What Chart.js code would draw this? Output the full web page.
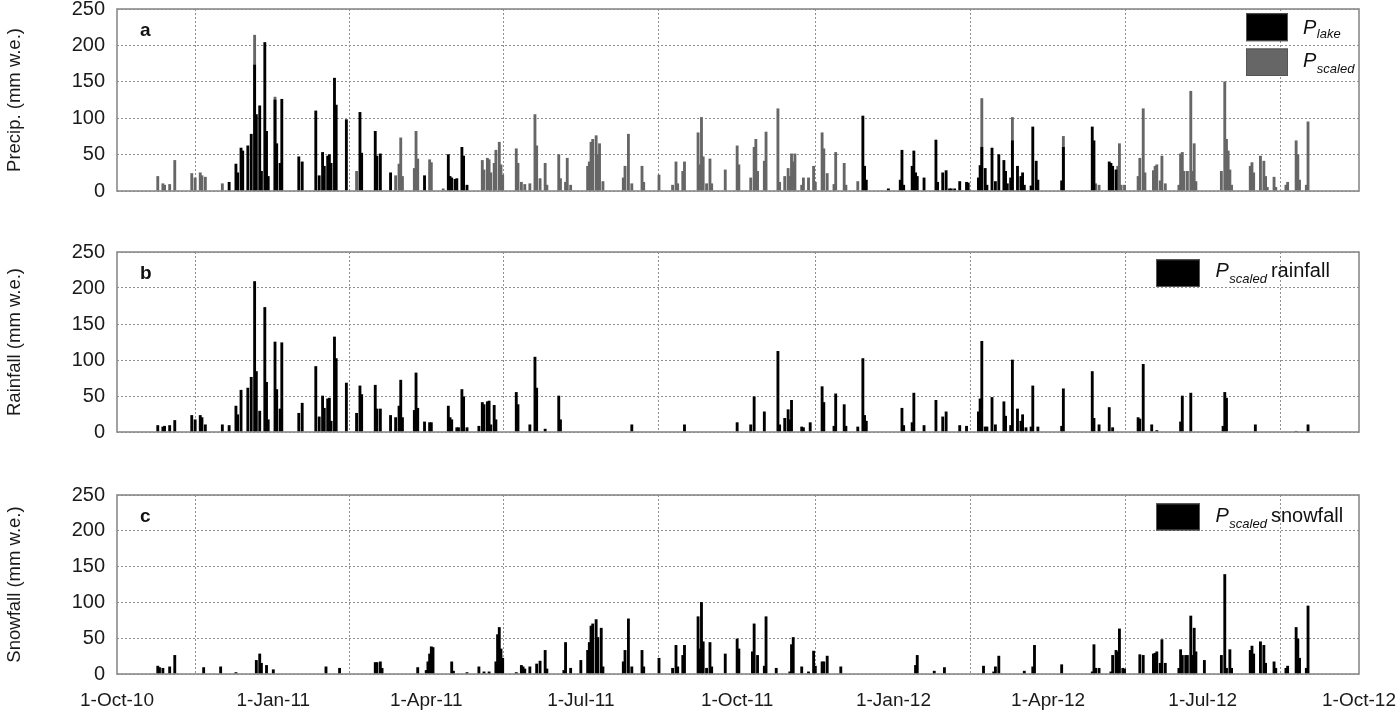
<!DOCTYPE html>
<html>
<head>
<meta charset="utf-8">
<script src="https://cdn.jsdelivr.net/npm/chart.js@4.4.1/dist/chart.umd.min.js"></script>
<style>
  body { margin: 0; background: #fff; }
  #wrap { position: relative; width: 1400px; height: 714px; overflow: hidden; }
  canvas { position: absolute; left: 0; }
</style>
</head>
<body>
<div id="wrap">
  <canvas id="chartA" width="1400" height="230" style="top:-15px"></canvas>
  <canvas id="chartB" width="1400" height="228" style="top:228px"></canvas>
  <canvas id="chartC" width="1400" height="243" style="top:471px"></canvas>
</div>
<script>
// x axis: days since 1-Oct-10
const quarterDays = [0, 92, 182, 273, 365, 457, 548, 639, 731];
const quarterLabels = ['1-Oct-10', '1-Jan-11', '1-Apr-11', '1-Jul-11', '1-Oct-11', '1-Jan-12', '1-Apr-12', '1-Jul-12', '1-Oct-12'];
const yTicks = [0, 50, 100, 150, 200, 250];

// [day, mm w.e.]
const pLake = [
  [66,12],[70,37],[71,25],[73,59],[74,55],[77,62],[79,78],[81,173],[82,105],[84,117],
  [85,27],[87,204],[88,82],[89,20],[93,125],[94,65],[96,38],[97,126],[107,47],[109,40],
  [117,110],[119,21],[121,53],[122,34],[124,48],[125,50],[126,38],[128,155],[129,118],[135,98],
  [143,108],[144,52],[152,82],[153,48],[155,51],[161,25],[181,21],[195,50],[196,20],[197,18],
  [199,16],[200,17],[203,60],[204,48],[206,8],[439,103],[440,34],[441,15],[454,3],[461,15],
  [462,56],[463,8],[468,34],[469,55],[470,25],[471,20],[475,18],[482,70],[483,12],[486,25],
  [488,28],[490,3],[491,3],[493,3],[496,13],[500,12],[501,11],[507,18],[508,35],[509,60],
  [511,31],[512,8],[515,59],[517,13],[519,50],[522,42],[523,27],[524,10],[526,18],[527,69],
  [530,34],[532,20],[533,25],[534,8],[538,7],[539,88],[541,41],[542,15],[556,14],[557,60],
  [574,88],[575,69],[584,40],[585,38],[586,34],[588,29]
];
const pScaled = [
  [24,20],[27,10],[28,8],[31,9],[34,42],[44,24],[46,18],[49,25],[50,21],[52,19],
  [62,10],[81,214],[93,129],[141,27],[164,21],[166,37],[167,73],[168,20],[175,31],[176,82],
  [177,44],[184,43],[185,39],[192,3],[215,42],[216,29],[218,45],[219,43],[220,25],[222,38],
  [223,56],[225,67],[226,36],[227,22],[235,58],[236,38],[238,12],[240,9],[243,10],[246,105],
  [247,62],[249,17],[252,38],[253,8],[260,50],[261,17],[264,12],[265,45],[267,8],[277,34],
  [278,40],[279,67],[280,71],[282,76],[283,50],[284,65],[286,13],[298,18],[299,34],[301,78],
  [303,10],[309,34],[310,12],[319,22],[327,8],[329,40],[330,10],[333,27],[334,40],[342,80],
  [343,36],[344,101],[345,47],[347,10],[349,44],[350,10],[358,29],[365,62],[366,36],[373,18],
  [375,60],[376,71],[377,27],[381,41],[382,81],[389,113],[390,12],[393,20],[395,31],[396,20],
  [397,51],[398,40],[399,51],[403,8],[404,18],[407,18],[410,34],[411,12],[415,80],[416,58],
  [418,24],[422,9],[423,53],[428,38],[429,8],[436,13],[509,127],[527,101],[557,75],[576,10],
  [578,8],[589,34],[590,65],[591,8],[593,8],[601,20],[602,45],[604,113],[605,25],[610,28],
  [611,34],[612,36],[614,14],[615,48],[617,10],[625,8],[626,51],[627,53],[628,27],[630,27],
  [632,137],[633,27],[634,65],[635,13],[650,27],[652,150],[653,71],[654,55],[655,29],[656,8],
  [667,34],[668,39],[669,25],[673,48],[675,41],[676,20],[677,5],[681,19],[682,5],[688,8],
  [689,12],[694,69],[695,50],[696,15],[700,8],[701,95]
];
const pRain = [
  [24,9],[27,7],[28,8],[31,9],[34,16],[44,23],[46,17],[49,23],[50,20],[52,10],
  [62,10],[66,9],[70,36],[71,24],[73,58],[77,61],[79,76],[81,209],[82,84],[84,29],
  [87,173],[88,69],[89,17],[93,125],[94,59],[96,32],[97,124],[107,26],[109,40],[117,91],
  [119,21],[121,50],[122,33],[124,46],[125,47],[126,15],[128,132],[129,102],[135,68],[141,26],
  [143,64],[144,52],[152,65],[153,32],[155,32],[161,23],[164,20],[166,36],[167,72],[168,20],
  [175,30],[176,82],[177,33],[181,14],[184,13],[185,13],[195,36],[196,20],[197,17],[200,6],
  [201,6],[203,59],[204,49],[206,6],[213,8],[215,41],[216,38],[218,42],[219,43],[220,10],
  [222,37],[223,17],[235,55],[236,38],[243,10],[246,104],[247,61],[252,4],[260,50],[261,17],
  [303,10],[334,10],[365,13],[373,10],[375,49],[381,28],[389,112],[390,10],[393,19],[395,31],
  [396,17],[397,44],[403,7],[404,6],[408,13],[415,63],[416,41],[422,8],[423,53],[428,38],
  [429,8],[436,7],[439,102],[440,23],[441,15],[462,33],[463,9],[468,13],[469,54],[475,9],
  [482,44],[486,21],[488,28],[496,9],[500,8],[507,28],[508,46],[509,126],[511,7],[512,7],
  [515,48],[517,10],[522,42],[523,22],[526,9],[527,100],[530,32],[532,15],[533,24],[535,6],
  [538,7],[539,64],[542,7],[556,8],[557,60],[574,84],[575,19],[578,10],[584,34],[586,6],
  [601,20],[602,18],[604,94],[609,10],[612,2],[626,14],[627,50],[632,54],[651,8],[652,55],
  [653,47],[670,10],[694,1],[701,10]
];
const pSnow = [
  [24,11],[25,9],[27,8],[31,10],[34,26],[51,9],[61,10],[70,2],[82,19],[84,28],
  [85,15],[88,12],[92,6],[123,10],[131,8],[152,16],[153,16],[155,17],[156,8],[177,9],
  [182,5],[183,17],[184,28],[185,38],[186,37],[197,17],[198,4],[206,2],[213,10],[216,3],
  [219,3],[223,17],[224,55],[225,65],[226,35],[227,22],[235,2],[238,12],[239,10],[240,7],
  [243,10],[247,14],[249,18],[252,33],[253,7],[263,5],[264,44],[267,8],[273,19],[277,33],
  [278,44],[279,67],[280,70],[282,76],[283,51],[285,64],[286,10],[298,17],[299,33],[301,77],
  [303,10],[309,33],[310,10],[319,22],[327,8],[329,40],[330,10],[333,26],[334,40],[342,80],
  [343,35],[344,100],[345,45],[347,8],[349,44],[350,10],[358,28],[365,49],[366,35],[374,31],
  [375,70],[377,26],[381,11],[382,80],[388,8],[396,3],[397,41],[398,51],[403,10],[407,3],
  [410,32],[411,11],[415,17],[416,17],[418,25],[426,10],[470,12],[471,26],[481,4],[487,9],
  [510,11],[516,3],[517,10],[519,25],[534,4],[539,10],[540,40],[556,13],[574,3],[575,41],
  [576,8],[578,8],[585,3],[586,26],[588,33],[589,31],[590,63],[592,8],[593,7],[602,27],
  [604,26],[610,28],[611,29],[612,31],[614,15],[615,48],[617,15],[625,8],[626,34],[627,26],
  [629,26],[630,26],[632,81],[633,26],[634,64],[635,31],[640,19],[650,26],[652,139],[653,8],
  [655,34],[656,8],[667,33],[668,39],[669,28],[673,45],[675,40],[676,15],[681,17],[682,8],
  [688,8],[689,11],[694,65],[695,49],[696,22],[700,8],[701,95]
];

const FONT = 'Arial, "Liberation Sans", sans-serif';
Chart.defaults.font.family = FONT;
Chart.defaults.color = '#1a1a1a';

const toXY = pts => pts.map(p => ({ x: p[0], y: p[1] }));

function barSet(label, pts, color, order) {
  return {
    label: label,
    data: toXY(pts),
    backgroundColor: color,
    borderWidth: 0,
    barThickness: 2.2,
    grouped: false,
    order: order
  };
}

// frame, panel letter and the legend (needs subscripts, so drawn by hand)
function deco(letter, items) {
  return {
    id: 'deco' + letter,
    afterDatasetsDraw(chart) {
      const ctx = chart.ctx;
      const a = chart.chartArea;
      ctx.save();
      ctx.strokeStyle = '#8a8a8a';
      ctx.lineWidth = 1.6;
      ctx.strokeRect(a.left, a.top, a.right - a.left, a.bottom - a.top);

      ctx.fillStyle = '#111';
      ctx.font = 'bold 19px ' + FONT;
      ctx.textBaseline = 'alphabetic';
      ctx.fillText(letter, a.left + 23, a.top + 26.5);

      items.forEach(it => {
        const bx = a.right - it.dx;
        ctx.fillStyle = it.fill;
        ctx.fillRect(bx, a.top + it.dy, it.w, it.h);
        ctx.strokeStyle = '#555';
        ctx.lineWidth = 1;
        ctx.strokeRect(bx + 0.5, a.top + it.dy + 0.5, it.w - 1, it.h - 1);

        ctx.fillStyle = '#111';
        let x = a.right - it.px;
        ctx.font = 'italic 20px ' + FONT;
        ctx.fillText('P', x, a.top + it.base);
        x += ctx.measureText('P').width + 0.5;
        ctx.font = 'italic 13px ' + FONT;
        ctx.fillText(it.sub, x, a.top + it.subBase);
        x += ctx.measureText(it.sub).width + 4;
        if (it.word) {
          ctx.font = '20px ' + FONT;
          ctx.fillText(it.word, x, a.top + it.base);
        }
      });
      ctx.restore();
    }
  };
}

function makePanel(id, datasets, yTitle, showX, xHeight, letter, legendItems) {
  return new Chart(document.getElementById(id), {
    type: 'bar',
    data: { datasets: datasets },
    options: {
      responsive: false,
      animation: false,
      layout: { padding: { top: 0, right: 41, left: 0, bottom: 0 } },
      plugins: { legend: { display: false }, tooltip: { enabled: false } },
      scales: {
        x: {
          type: 'linear',
          min: 0,
          max: 731,
          offset: false,
          afterBuildTicks: s => { s.ticks = quarterDays.map(v => ({ value: v })); },
          afterFit: s => { s.height = xHeight; },
          grid: { color: '#8f8f8f', lineWidth: 1, drawTicks: showX, tickLength: 15, tickColor: 'rgba(0,0,0,0)' },
          border: { display: false, dash: [2, 2] },
          ticks: {
            display: showX,
            autoSkip: false,
            maxRotation: 0,
            padding: 0,
            font: { size: 19 },
            callback: v => quarterLabels[quarterDays.indexOf(v)]
          }
        },
        y: {
          min: 0,
          max: 250,
          afterBuildTicks: s => { s.ticks = yTicks.map(v => ({ value: v })); },
          afterFit: s => { s.width = 117; },
          grid: { color: '#8f8f8f', lineWidth: 1, drawTicks: false },
          border: { display: false, dash: [2, 2] },
          ticks: { padding: 12, font: { size: 20 } },
          title: { display: true, text: yTitle, font: { size: 18.5 }, padding: { top: 4, bottom: 0 } }
        }
      }
    },
    plugins: [deco(letter, legendItems)]
  });
}

makePanel('chartA', [
  barSet('Plake', pLake, '#000000', 0),
  barSet('Pscaled', pScaled, '#666666', 1)
], 'Precip. (mm w.e.)', false, 1, 'a', [
  { fill: '#000', dx: 113, dy: 4.2, w: 42, h: 28, px: 56, sub: 'lake', base: 24.8, subBase: 28.8 },
  { fill: '#666', dx: 113, dy: 39.5, w: 42, h: 27.5, px: 56, sub: 'scaled', base: 58.2, subBase: 64.2 }
]);

makePanel('chartB', [
  barSet('Pscaled rainfall', pRain, '#000000', 0)
], 'Rainfall (mm w.e.)', false, 1, 'b', [
  { fill: '#000', dx: 203, dy: 7.3, w: 44, h: 27.7, px: 143.5, sub: 'scaled', word: 'rainfall', base: 25, subBase: 31 }
]);

makePanel('chartC', [
  barSet('Pscaled snowfall', pSnow, '#000000', 0)
], 'Snowfall (mm w.e.)', true, 40, 'c', [
  { fill: '#000', dx: 203, dy: 8.4, w: 44, h: 27, px: 143.5, sub: 'scaled', word: 'snowfall', base: 27, subBase: 32.5 }
]);
</script>
</body>
</html>
